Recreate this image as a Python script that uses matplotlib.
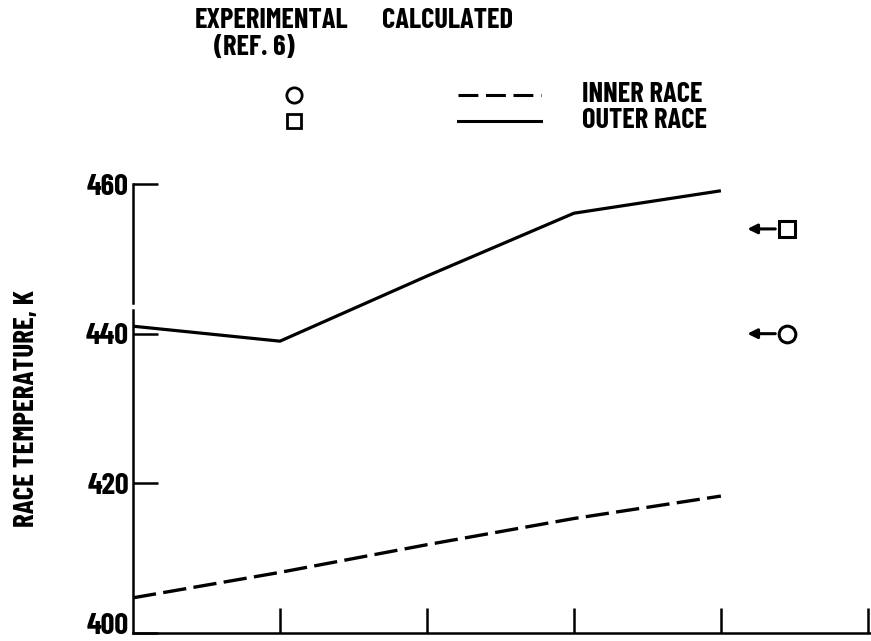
import matplotlib
matplotlib.use("Agg")
import matplotlib.pyplot as plt
import matplotlib.transforms as mtransforms

plt.rcParams['font.family'] = ['Barlow Condensed', 'DejaVu Sans']
plt.rcParams['font.weight'] = 'bold'

### Data
x_pos = [0, 1, 2, 3, 4]
outer_calc = [441.0, 439.0, 447.7, 456.1, 459.1]
inner_calc = [404.7, 408.1, 411.8, 415.3, 418.3]
exp_x = 4.45
exp_outer = 454.0
exp_inner = 440.0
y_ticks = [400, 420, 440, 460]
x_ticks = [1, 2, 3, 4, 5]

fig = plt.figure(figsize=(8.71, 6.41), dpi=100)
ax = fig.add_axes([0.1527, 0.0125, 0.846, 0.7004])

# Calculated curves
ax.plot(x_pos, outer_calc, color='black', lw=2.3, solid_capstyle='butt')
ax.plot(x_pos, inner_calc, color='black', lw=2.4, dashes=(7, 2.2))

# Experimental points with arrows
ax.plot([exp_x], [exp_outer], marker='s', ms=11, mfc='white', mec='black', mew=2.2, ls='none')
ax.plot([exp_x], [exp_inner], marker='o', ms=12, mfc='white', mec='black', mew=2.2, ls='none')
for v in (exp_outer, exp_inner):
    ax.annotate('', xy=(exp_x - 0.27, v), xytext=(exp_x - 0.08, v),
                arrowprops=dict(arrowstyle='-|>', color='black', lw=2.2,
                                mutation_scale=14, shrinkA=0, shrinkB=0))

ax.set_xlim(0, 5.0136)
ax.set_ylim(400, 460)

# axes look: bottom and left only, left spine with a small gap
for s in ('top', 'right', 'left'):
    ax.spines[s].set_visible(False)
ax.spines['bottom'].set_linewidth(1.8)
ax.axvline(0, ymin=0, ymax=(443.2 - 400) / 60, color='black', lw=1.8, clip_on=False)
ax.axvline(0, ymin=(444.1 - 400) / 60, ymax=1, color='black', lw=1.8, clip_on=False)

ax.set_xticks(x_ticks)
ax.set_xticklabels([])
ax.set_yticks(y_ticks)
ax.set_yticklabels([str(t) for t in y_ticks])
ax.tick_params(axis='both', direction='in', length=18, width=1.8, color='black')
ax.tick_params(axis='y', labelsize=22, pad=3)

# keep the bottom label inside the picture
lab = ax.get_yticklabels()[0]
lab.set_transform(lab.get_transform() + mtransforms.ScaledTranslation(0, 9 / 100, fig.dpi_scale_trans))

ax.set_ylabel('RACE TEMPERATURE, K', fontsize=21, fontweight='bold', labelpad=34)

# Legend drawn as text above the axes
fs = 20.5
fig.text(272 / 871, 1 - 20 / 641, 'EXPERIMENTAL', ha='center', va='center', fontsize=fs)
fig.text(254 / 871, 1 - 47 / 641, '(REF. 6)', ha='center', va='center', fontsize=fs)
fig.text(448 / 871, 1 - 20 / 641, 'CALCULATED', ha='center', va='center', fontsize=fs)
fig.text(582 / 871, 1 - 95 / 641, 'INNER RACE', ha='left', va='center', fontsize=fs)
fig.text(582 / 871, 1 - 121 / 641, 'OUTER RACE', ha='left', va='center', fontsize=fs)

fig.lines.append(plt.Line2D([294 / 871], [1 - 95 / 641], transform=fig.transFigure,
                            marker='o', ms=11, mfc='white', mec='black', mew=2, ls='none'))
fig.lines.append(plt.Line2D([294 / 871], [1 - 121 / 641], transform=fig.transFigure,
                            marker='s', ms=10, mfc='white', mec='black', mew=2, ls='none'))
fig.lines.append(plt.Line2D([458 / 871, 541 / 871], [1 - 95 / 641] * 2, transform=fig.transFigure,
                            color='black', lw=2.2, dashes=(6.5, 2.5)))
fig.lines.append(plt.Line2D([458 / 871, 541 / 871], [1 - 121 / 641] * 2, transform=fig.transFigure,
                            color='black', lw=2.2))

fig.savefig('out.png', dpi=100)
